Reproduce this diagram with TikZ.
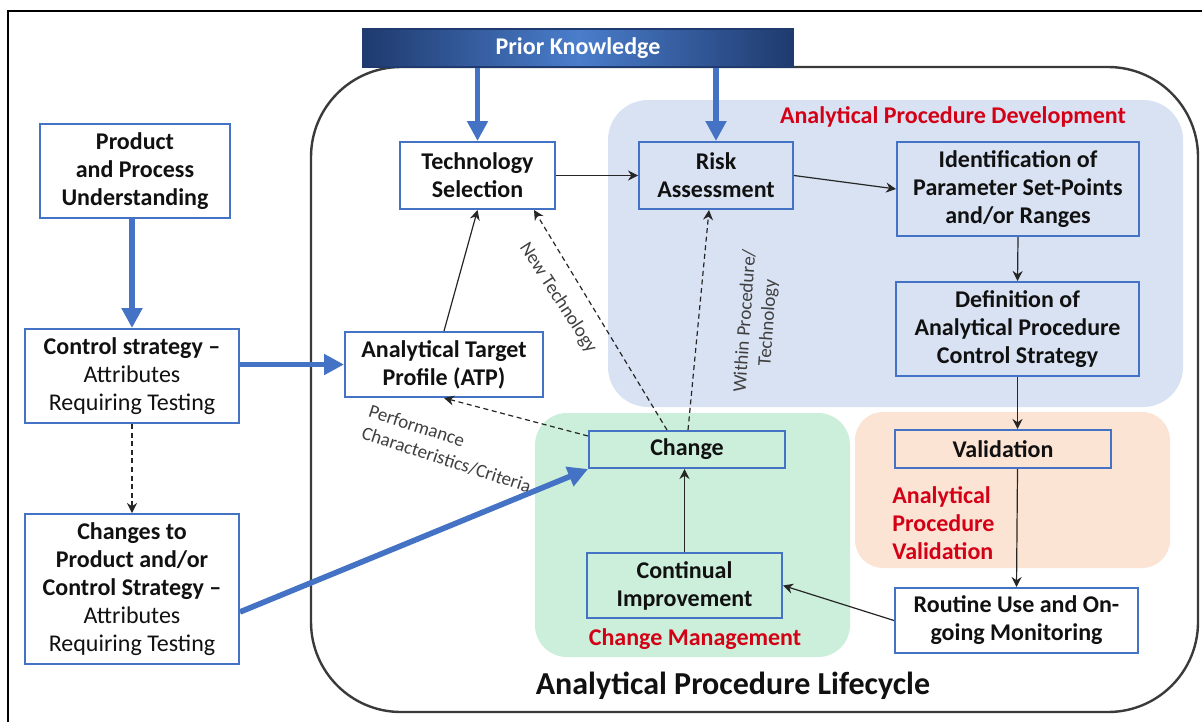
\documentclass[tikz,border=0pt]{standalone}
\usepackage{fontspec}
\setmainfont{Carlito}
\usetikzlibrary{arrows.meta,fit,calc}
\definecolor{bbord}{HTML}{4472C4}
\definecolor{devc}{HTML}{D9E2F3}
\definecolor{cmc}{HTML}{CBEFDA}
\definecolor{valc}{HTML}{FCE4D5}
\definecolor{redc}{HTML}{D40016}
\definecolor{txtc}{HTML}{111111}
\definecolor{grayc}{HTML}{404040}
\definecolor{lcc}{HTML}{3A3A3A}
\definecolor{pkdark}{HTML}{1F3A6E}
\definecolor{pklight}{HTML}{4A7DCB}
\newcommand{\bxf}{\fontsize{12}{14}\selectfont\bfseries}
\begin{document}
\begin{tikzpicture}[x=0.5pt,y=-0.5pt,
  box/.style={draw=bbord, line width=1pt, inner sep=0pt, align=center, font=\bxf, text=txtc},
  region/.style={inner sep=0pt, draw=none},
  bluearr/.style={draw=bbord, line width=2.8pt, -{Triangle[length=10pt,width=10pt]}},
  thinarr/.style={draw=black!85, line width=0.6pt, -{Stealth[length=5pt,width=5pt]}},
  dsharr/.style={thinarr, dash pattern=on 2.5pt off 1.8pt},
  redlbl/.style={text=redc, font=\bxf, inner sep=0pt},
  grylbl/.style={text=grayc, font=\fontsize{9.5}{11.5}\selectfont, inner sep=0pt},
]
\useasboundingbox (0,0) rectangle (1202,722);
\fill[white] (0,0) rectangle (1202,722);
% outer frame
\draw[line width=1.2pt] (8,722) -- (8,11) -- (1202,11);
% regions
\node[region, fill=devc, rounded corners=20pt, fit={(608,100) (1183,407)}] (dev) {};
\node[region, fill=cmc, rounded corners=16pt, fit={(535,413) (850,657)}] (cm) {};
\node[region, fill=valc, rounded corners=14pt, fit={(855,412) (1170,568)}] (apv) {};
% lifecycle frame
\node[draw=lcc, line width=1.2pt, rounded corners=45pt, inner sep=0pt, fit={(311,67) (1198,712)}] (lc) {};
\node[font=\fontsize{16}{19}\selectfont\bfseries, text=txtc] (lct) at (733,686) {Analytical Procedure Lifecycle};
% prior knowledge
\node[draw=pkdark, line width=0.8pt, inner sep=0pt, left color=pkdark, right color=pkdark, middle color=pklight,
      text=white, font=\bxf, minimum width=215pt, minimum height=19pt] (pk) at (578,48) {Prior Knowledge};
% boxes
\node[box, minimum width=95pt, minimum height=47pt] (ppu) at (135,171) {Product\\and Process\\Understanding};
\node[box, minimum width=107pt, minimum height=47pt] (cs) at (132,376) {Control strategy –\\{\mdseries Attributes}\\{\mdseries Requiring Testing}};
\node[box, minimum width=107pt, minimum height=75pt] (chg) at (132,589) {Changes to\\Product and/or\\Control Strategy –\\{\mdseries Attributes}\\{\mdseries Requiring Testing}};
\node[box, fill=white, minimum width=99pt, minimum height=32.5pt] (atp) at (444,364.5) {Analytical Target\\Profile (ATP)};
\node[box, fill=white, minimum width=77.5pt, minimum height=33.5pt] (ts) at (477.5,175.5) {Technology\\Selection};
\node[box, minimum width=77pt, minimum height=33.5pt] (ra) at (716,175.5) {Risk\\Assessment};
\node[box, minimum width=121pt, minimum height=47pt] (id) at (1018,189) {Identification of\\Parameter Set-Points\\and/or Ranges};
\node[box, minimum width=121.5pt, minimum height=47pt] (def) at (1017.5,329) {Definition of\\Analytical Procedure\\Control Strategy};
\node[box, minimum width=108pt, minimum height=19pt] (val) at (1003,449) {Validation};
\node[box, fill=white, minimum width=121.5pt, minimum height=32.5pt] (rt) at (1016.5,620.5) {Routine Use and On-\\going Monitoring};
\node[box, minimum width=98pt, minimum height=18.5pt] (change) at (687,449.5) {Change};
\node[box, minimum width=97.5pt, minimum height=32.5pt] (ci) at (684.5,585.5) {Continual\\Improvement};
% labels
\node[redlbl] (devl) at (953,117) {Analytical Procedure Development};
\node[redlbl] (cml) at (695,639) {Change Management};
\node[redlbl, anchor=west, align=left] (apvl) at (892,523) {Analytical\\Procedure\\Validation};
\node[grylbl, rotate=-57] (ntl) at (558,298) {New Technology};
\node[grylbl, rotate=86, align=center] (wpl) at (757,322) {Within Procedure/\\Technology};
\node[grylbl, rotate=-18, align=left] (pcl) at (450,449) {Performance\\Characteristics/Criteria};
% connectors
\draw[bluearr] (ts.north |- pk.south) -- (ts.north);
\draw[bluearr] (ra.north |- pk.south) -- (ra.north);
\draw[bluearr] (cs.north |- ppu.south) -- (cs.north);
\draw[bluearr] (cs.east |- atp.west) -- (atp.west);
\draw[bluearr] (chg.-12) -- (change.south west);
\draw[dsharr] (cs.south) -- (chg.north);
\draw[thinarr] (atp.north) -- (ts.south);
\draw[thinarr] (ts.east) -- (ra.west);
\draw[thinarr] (ra.east) -- (id.west);
\draw[thinarr] (id.south) -- (def.north);
\draw[thinarr] (def.south) -- (def.south |- val.north);
\draw[thinarr] (def.south |- val.south) -- (rt.north);
\draw[thinarr] (rt.west) -- (ci.east);
\draw[thinarr] (ci.north) -- (ci.north |- change.south);
\draw[dsharr] ($(change.north)+(-20,0)$) -- ($(ts.south east)+(-22,0)$);
\draw[dsharr] ($(change.north)+(1,0)$) -- ($(ra.south)+(-7,0)$);
\draw[dsharr] ($(change.north west)+(0,6)$) -- (atp.south);
\end{tikzpicture}
\end{document}
